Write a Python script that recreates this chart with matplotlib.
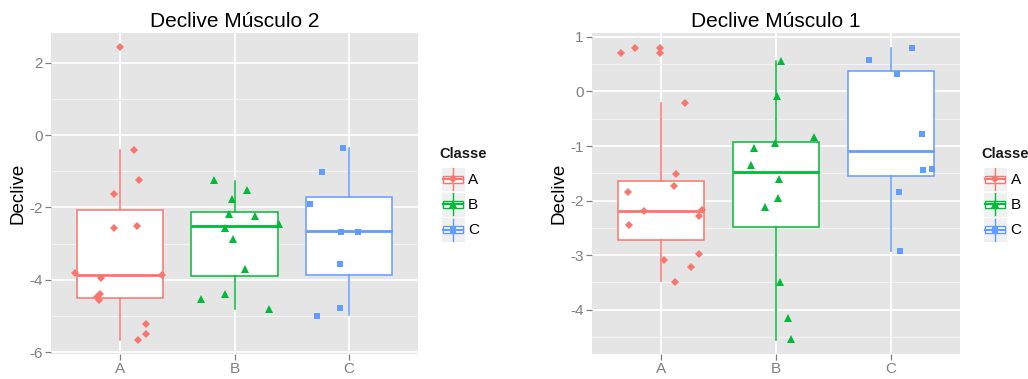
import numpy as np
import matplotlib
matplotlib.use('Agg')
import matplotlib.pyplot as plt
from matplotlib.patches import Rectangle

plt.rcParams['font.family'] = ['Liberation Sans', 'DejaVu Sans']
plt.rcParams['axes.unicode_minus'] = False

classes = ['A', 'B', 'C']
colors = ['#F8766D', '#00BA38', '#619CFF']
markers = ['D', '^', 's']
msizes = [4.3, 5.8, 4.9]

# ---------------- Declive Músculo 2 ----------------
m2_A = [2.42, -0.42, -1.25, -1.62, -2.58, -2.52, -3.82, -3.96, -3.88,
        -4.40, -4.47, -4.55, -5.23, -5.51, -5.67]
m2_A_jit = [0.00, 0.12, 0.17, -0.05, -0.05, 0.15, -0.39, -0.16, 0.37,
            -0.17, -0.20, -0.18, 0.23, 0.23, 0.16]
m2_B = [-1.24, -1.51, -1.77, -2.19, -2.23, -2.47, -2.56, -2.87, -3.71,
        -4.38, -4.53, -4.81]
m2_B_jit = [-0.18, 0.11, -0.02, -0.05, 0.18, 0.39, -0.08, -0.01, 0.09,
            -0.08, -0.29, 0.30]
m2_C = [-0.35, -1.01, -1.90, -2.67, -2.68, -3.57, -4.77, -4.99]
m2_C_jit = [-0.05, -0.24, -0.34, -0.07, 0.08, -0.08, -0.08, -0.28]

m2_q1 = [-4.50, -3.90, -3.88]
m2_med = [-3.88, -2.52, -2.66]
m2_q3 = [-2.07, -2.14, -1.70]
m2_lo = [-5.67, -4.82, -4.98]
m2_hi = [-0.42, -1.26, -0.37]

# ---------------- Declive Músculo 1 ----------------
m1_A = [0.71, 0.79, 0.79, 0.71, -0.21, -1.52, -1.74, -1.84, -2.19, -2.18,
        -2.28, -2.44, -2.97, -3.09, -3.22, -3.49]
m1_A_jit = [-0.35, -0.23, -0.01, -0.01, 0.21, 0.13, 0.11, -0.29, -0.15, 0.36,
            0.33, -0.28, 0.33, 0.03, 0.26, 0.12]
m1_B = [0.56, -0.08, -0.84, -0.94, -1.03, -1.34, -1.61, -1.96, -2.12,
        -3.50, -4.15, -4.54]
m1_B_jit = [0.04, 0.01, 0.33, -0.01, -0.19, -0.22, 0.03, 0.02, -0.10,
            0.035, 0.10, 0.13]
m1_C = [0.80, 0.575, 0.32, -0.78, -1.44, -1.42, -1.85, -2.92]
m1_C_jit = [0.18, -0.19, 0.05, 0.27, 0.28, 0.36, 0.07, 0.076]

m1_q1 = [-2.72, -2.48, -1.55]
m1_med = [-2.19, -1.48, -1.09]
m1_q3 = [-1.64, -0.92, 0.37]
m1_lo = [-3.48, -4.55, -2.92]
m1_hi = [-0.22, 0.55, 0.79]


def panel(ax, title, groups, jitters, q1, med, q3, lo, hi, ylim, yticks, yminor):
    ax.set_facecolor('#E5E5E5')
    for s in ax.spines.values():
        s.set_visible(False)

    stats = [dict(med=m, q1=a, q3=b, whislo=l, whishi=h, fliers=[])
             for a, m, b, l, h in zip(q1, med, q3, lo, hi)]
    bp = ax.bxp(stats, positions=[1, 2, 3], widths=0.75, patch_artist=True,
                showcaps=False, showfliers=False, manage_ticks=False, zorder=2)
    for i, c in enumerate(colors):
        bp['boxes'][i].set(facecolor='white', edgecolor=c, linewidth=1.1)
        bp['medians'][i].set(color=c, linewidth=2.0, solid_capstyle='butt')
        for w in bp['whiskers'][2 * i:2 * i + 2]:
            w.set(color=c, linewidth=1.1)

    for i, (vals, jit) in enumerate(zip(groups, jitters)):
        ax.plot(i + 1 + np.array(jit), vals, linestyle='none', marker=markers[i],
                color=colors[i], markersize=msizes[i], markeredgewidth=0, zorder=3)

    ax.set_xlim(0.4, 3.6)
    ax.set_ylim(*ylim)
    ax.set_xticks([1, 2, 3])
    ax.set_xticklabels(classes)
    ax.set_yticks(yticks)
    ax.set_yticklabels([f'{t:g}' for t in yticks])
    ax.set_yticks(yminor, minor=True)
    ax.set_axisbelow(True)
    ax.grid(which='major', color='white', linewidth=1.3)
    ax.grid(which='minor', axis='y', color='#F3F3F3', linewidth=0.9)
    ax.tick_params(axis='both', which='major', length=4, width=0.9,
                   color='#7F7F7F', labelcolor='#808080', labelsize=11, pad=2)
    ax.tick_params(axis='y', which='minor', length=0)

    ax.set_title(title, fontsize=15, pad=4)
    ax.set_ylabel('Declive', fontsize=13.5, va='center')
    ax.yaxis.set_label_coords(-0.09, 0.5)


fig = plt.figure(figsize=(10.28, 3.79), dpi=100)
ax_l = fig.add_axes([51 / 1028, 25 / 379, 367 / 1028, 321 / 379])
ax_r = fig.add_axes([592 / 1028, 25 / 379, 368 / 1028, 321 / 379])

panel(ax_l, 'Declive Músculo 2', [m2_A, m2_B, m2_C],
      [m2_A_jit, m2_B_jit, m2_C_jit], m2_q1, m2_med, m2_q3, m2_lo, m2_hi,
      (-6.05, 2.82), [-6, -4, -2, 0, 2], [-5, -3, -1, 1])
panel(ax_r, 'Declive Músculo 1', [m1_A, m1_B, m1_C],
      [m1_A_jit, m1_B_jit, m1_C_jit], m1_q1, m1_med, m1_q3, m1_lo, m1_hi,
      (-4.81, 1.07), [-4, -3, -2, -1, 0, 1], [-4.5, -3.5, -2.5, -1.5, -0.5, 0.5])

# legends drawn on a pixel-space overlay
ov = fig.add_axes([0, 0, 1, 1], zorder=10)
ov.set_xlim(0, 1028)
ov.set_ylim(379, 0)
ov.axis('off')


def legend(x0):
    ov.text(x0, 154, 'Classe', fontsize=10.5, fontweight='bold', va='center',
            ha='left', color='#1a1a1a')
    for k, (lab, c, mk, ms) in enumerate(zip(classes, colors, markers, msizes)):
        yc = 179 + 25.3 * k
        ov.add_patch(Rectangle((x0 + 1.5, yc - 12.3), 24, 24.6,
                               facecolor='#F0F0F0', edgecolor='white', lw=0.8))
        xc = x0 + 13.5
        ov.plot([xc, xc], [yc - 11, yc + 11], color=c, lw=1.0)
        ov.add_patch(Rectangle((xc - 10, yc - 3.5), 20, 7, facecolor='white',
                               edgecolor=c, lw=1.0, zorder=3))
        ov.plot([xc - 10, xc + 10], [yc, yc], color=c, lw=1.6, zorder=4)
        ov.plot([xc], [yc], marker=mk, color=c, markersize=ms * 0.9,
                markeredgewidth=0, zorder=5)
        ov.text(x0 + 29, yc + 0.5, lab, fontsize=11, va='center', ha='left',
                color='black')


legend(439)
legend(981.5)

fig.savefig('out.png', dpi=100, facecolor='white')
